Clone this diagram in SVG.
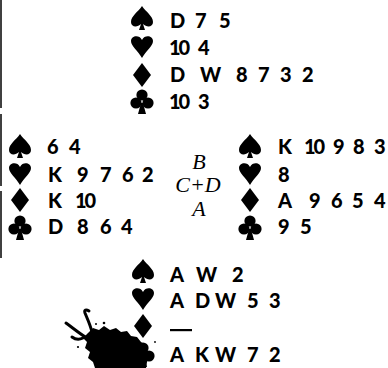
<svg xmlns="http://www.w3.org/2000/svg" width="388" height="368" viewBox="0 0 388 368">
<style>
.c{font-family:Lato,"DejaVu Sans",sans-serif;font-weight:900;font-size:20px;fill:#000}
.t{letter-spacing:-2px}
.it{font-family:"Liberation Serif",serif;font-style:italic;font-size:22px;fill:#000;text-anchor:middle}
.ink{fill:none;stroke:#000;stroke-width:3;stroke-linecap:round}
.bd{stroke:#000;stroke-width:1.5}
</style>
<defs>
<path id="sp" d="M0,-12 C-4,-6 -11,-2 -11,4 C-11,9 -5,10 -1,6 L-3,12 L3,12 L1,6 C5,10 11,9 11,4 C11,-2 4,-6 0,-12 Z"/>
<path id="he" d="M0,12 C-4,5 -11,0 -11,-5 C-11,-10 -3,-12 0,-6 C3,-12 11,-10 11,-5 C11,0 4,5 0,12 Z"/>
<path id="di" d="M0,-12 C3,-8 6,-4 9,0 C6,4 3,8 0,12 C-3,8 -6,4 -9,0 C-6,-4 -3,-8 0,-12 Z"/>
<g id="cl"><circle cx="0" cy="-6" r="5.6"/><circle cx="-6" cy="2" r="5.6"/><circle cx="6" cy="2" r="5.6"/><path d="M-1,2 L-4,13 L4,13 L1,2 Z"/></g>
</defs>
<rect width="388" height="368" fill="#fff"/>
<g id="border">
<line class="bd" x1="1" y1="0" x2="1" y2="108"/>
<line class="bd" x1="1" y1="114" x2="1" y2="186"/>
<line class="bd" x1="1" y1="191" x2="1" y2="258"/>
</g>
<g id="north">
<use href="#sp" x="142" y="18"/><use href="#he" x="142" y="46"/><use href="#di" x="142" y="75"/><use href="#cl" x="142" y="101"/>
<text class="c" y="28"><tspan x="170">D</tspan> <tspan x="195">7</tspan> <tspan x="219">5</tspan></text>
<text class="c" y="55"><tspan class="t" x="169">10</tspan> <tspan x="198">4</tspan></text>
<text class="c" y="82"><tspan x="170">D</tspan> <tspan x="200">W</tspan> <tspan x="236">8</tspan> <tspan x="258">7</tspan> <tspan x="280">3</tspan> <tspan x="302">2</tspan></text>
<text class="c" y="109"><tspan class="t" x="169">10</tspan> <tspan x="198">3</tspan></text>
</g>
<g id="west">
<use href="#sp" x="20" y="146"/><use href="#he" x="20" y="173"/><use href="#di" x="20" y="200"/><use href="#cl" x="20" y="227"/>
<text class="c" y="154"><tspan x="47">6</tspan> <tspan x="69">4</tspan></text>
<text class="c" y="182"><tspan x="48">K</tspan> <tspan x="77">9</tspan> <tspan x="100">7</tspan> <tspan x="122">6</tspan> <tspan x="142">2</tspan></text>
<text class="c" y="208"><tspan x="48">K</tspan> <tspan class="t" x="75">10</tspan></text>
<text class="c" y="234"><tspan x="48">D</tspan> <tspan x="77">8</tspan> <tspan x="100">6</tspan> <tspan x="121">4</tspan></text>
</g>
<g id="east">
<use href="#sp" x="250" y="146"/><use href="#he" x="250" y="173"/><use href="#di" x="250" y="200"/><use href="#cl" x="250" y="227"/>
<text class="c" y="154"><tspan x="278">K</tspan> <tspan class="t" x="304">10</tspan> <tspan x="333">9</tspan> <tspan x="353">8</tspan> <tspan x="374">3</tspan></text>
<text class="c" y="182"><tspan x="278">8</tspan></text>
<text class="c" y="208"><tspan x="278">A</tspan> <tspan x="309">9</tspan> <tspan x="331">6</tspan> <tspan x="352">5</tspan> <tspan x="374">4</tspan></text>
<text class="c" y="234"><tspan x="278">9</tspan> <tspan x="300">5</tspan></text>
</g>
<g id="center">
<text class="it" x="199" y="169">B</text>
<text class="it" x="198" y="192">C+D</text>
<text class="it" x="199" y="216">A</text>
</g>
<g id="south">
<use href="#sp" x="143" y="271"/><use href="#he" x="143" y="298"/><use href="#di" x="143" y="326"/><use href="#cl" x="143" y="354"/>
<text class="c" y="282"><tspan x="170">A</tspan> <tspan x="196">W</tspan> <tspan x="232">2</tspan></text>
<text class="c" y="308"><tspan x="170">A</tspan><tspan x="195">D</tspan><tspan x="215">W</tspan><tspan x="247">5</tspan><tspan x="269">3</tspan></text>
<rect x="170" y="329" width="22" height="2.2"/>
<text class="c" y="362"><tspan x="170">A</tspan><tspan x="195">K</tspan><tspan x="215">W</tspan><tspan x="247">7</tspan><tspan x="269">2</tspan></text>
</g>
<g id="ink-blot">
<path d="M88,333 L93,328 L99,330 L104,326 L110,330 L116,328 L121,332 L127,331 L131,336 L137,337 L141,342 L147,346 L148,356 L146,368 L95,368 L93,362 L88,358 L90,352 L85,348 L87,342 L83,338 Z"/>
<path class="ink" d="M92,332 C90,324 87,318 85,313 C84,310 86,309 89,311"/>
<path class="ink" d="M87,338 C80,334 73,328 66,323"/>
<path class="ink" d="M83,338 C79,340 76,340 72,337"/>
<circle cx="104" cy="323" r="1.3"/><circle cx="78" cy="347" r="1.1"/><circle cx="155" cy="342" r="0.9"/><circle cx="96" cy="324" r="1"/>
</g>
</svg>
